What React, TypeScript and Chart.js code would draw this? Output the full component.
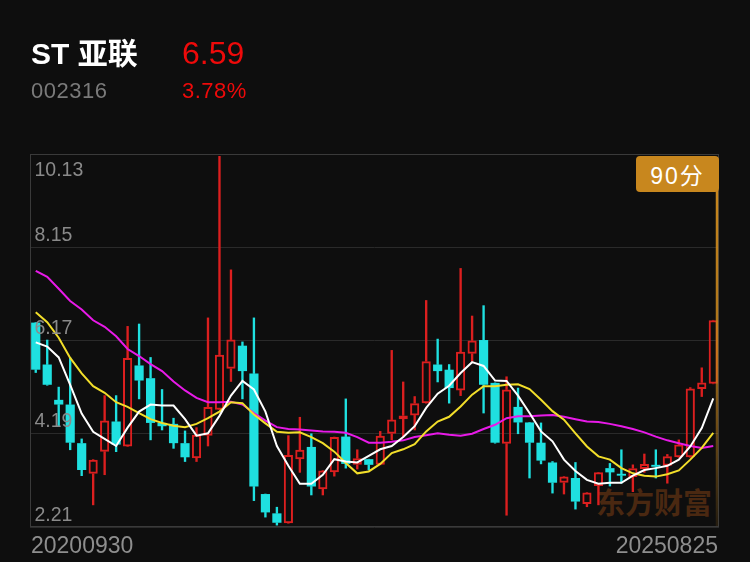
import React, { useEffect, useRef } from "react";
import { Chart, registerables } from "chart.js";

Chart.register(...registerables);

// ---------- data ----------
const months = [
  "2020-09", "2020-10", "2020-11", "2020-12",
  "2021-01", "2021-02", "2021-03", "2021-04", "2021-05", "2021-06", "2021-07", "2021-08", "2021-09", "2021-10", "2021-11", "2021-12",
  "2022-01", "2022-02", "2022-03", "2022-04", "2022-05", "2022-06", "2022-07", "2022-08", "2022-09", "2022-10", "2022-11", "2022-12",
  "2023-01", "2023-02", "2023-03", "2023-04", "2023-05", "2023-06", "2023-07", "2023-08", "2023-09", "2023-10", "2023-11", "2023-12",
  "2024-01", "2024-02", "2024-03", "2024-04", "2024-05", "2024-06", "2024-07", "2024-08", "2024-09", "2024-10", "2024-11", "2024-12",
  "2025-01", "2025-02", "2025-03", "2025-04", "2025-05", "2025-06", "2025-07", "2025-08",
];

const openV = [
  6.55, 5.66, 4.91, 4.81, 3.99, 3.34, 3.81, 4.45, 3.92, 5.64,
  5.37, 4.42, 4.40, 3.99, 3.67, 4.15, 4.70, 5.57, 6.06, 5.47,
  2.91, 2.50, 2.29, 3.65, 3.91, 3.01, 3.37, 4.13, 3.53, 3.65,
  3.53, 4.19, 4.50, 4.58, 4.84, 5.66, 5.55, 5.11, 5.89, 6.18,
  5.27, 3.98, 4.76, 4.43, 4.00, 3.58, 3.15, 3.25, 2.70, 3.08,
  3.46, 3.34, 3.27, 3.44, 3.53, 3.51, 3.69, 3.69, 5.14, 5.25,
];
const highV = [
  6.55, 6.18, 5.18, 5.80, 4.08, 3.64, 5.00, 5.00, 6.47, 6.52,
  5.81, 5.13, 4.52, 4.25, 4.32, 6.65, 10.08, 7.67, 6.14, 6.65,
  2.91, 2.63, 4.15, 4.54, 4.19, 3.41, 4.12, 4.93, 3.85, 3.65,
  4.24, 5.96, 5.29, 4.98, 7.02, 6.20, 5.66, 7.70, 6.69, 6.91,
  5.27, 5.40, 5.16, 4.43, 4.42, 3.60, 3.28, 3.58, 2.94, 3.37,
  3.56, 3.85, 3.53, 3.76, 3.85, 3.75, 4.06, 5.17, 5.59, 6.60,
];
const lowV = [
  5.49, 5.22, 4.35, 3.85, 3.30, 2.68, 3.32, 3.81, 3.92, 4.93,
  4.06, 4.27, 3.88, 3.60, 3.60, 3.93, 4.70, 5.30, 4.93, 2.77,
  2.42, 2.25, 2.29, 3.37, 2.89, 2.89, 3.29, 3.46, 3.44, 3.42,
  3.53, 4.06, 4.12, 4.27, 4.84, 5.29, 4.84, 5.00, 5.73, 4.63,
  3.99, 2.46, 4.19, 3.25, 3.55, 2.93, 2.91, 2.59, 2.64, 2.68,
  3.08, 3.14, 2.96, 3.37, 3.25, 3.14, 3.69, 3.69, 4.98, 5.25,
];
const closeV = [
  5.55, 5.23, 4.81, 4.00, 3.42, 3.64, 4.47, 3.96, 5.80, 5.32,
  4.42, 4.35, 3.99, 3.69, 4.17, 4.76, 5.87, 6.19, 5.52, 3.07,
  2.52, 2.30, 3.74, 3.85, 3.07, 3.41, 4.12, 3.55, 3.67, 3.53,
  4.15, 4.49, 4.58, 4.84, 5.73, 5.52, 5.16, 5.93, 6.17, 5.23,
  4.00, 5.13, 4.43, 4.00, 3.62, 3.15, 3.28, 2.75, 2.94, 3.37,
  3.37, 3.30, 3.46, 3.55, 3.49, 3.71, 3.96, 5.15, 5.28, 6.60,
];

const ma5 = [
  6.13, 6.04, 5.81, 5.23, 4.62, 4.23, 4.08, 3.93, 4.32, 4.66,
  4.81, 4.79, 4.79, 4.50, 4.15, 4.20, 4.57, 5.00, 5.31, 5.13,
  4.66, 3.93, 3.51, 3.13, 3.13, 3.32, 3.65, 3.60, 3.58, 3.72,
  3.86, 3.93, 4.12, 4.35, 4.74, 5.04, 5.21, 5.48, 5.71, 5.63,
  5.32, 5.31, 5.00, 4.63, 4.24, 4.03, 3.64, 3.40, 3.21, 3.13,
  3.15, 3.15, 3.30, 3.42, 3.46, 3.51, 3.64, 3.92, 4.31, 4.94,
];
const ma10 = [
  6.77, 6.56, 6.23, 5.80, 5.47, 5.20, 5.06, 4.86, 4.76, 4.63,
  4.50, 4.42, 4.36, 4.33, 4.40, 4.52, 4.66, 4.86, 4.84, 4.60,
  4.41, 4.23, 4.21, 4.22, 4.12, 3.99, 3.81, 3.57, 3.35, 3.39,
  3.55, 3.78, 3.86, 3.97, 4.24, 4.45, 4.55, 4.77, 5.02, 5.20,
  5.20, 5.23, 5.24, 5.14, 4.91, 4.67, 4.49, 4.20, 3.92, 3.71,
  3.64, 3.46, 3.35, 3.30, 3.28, 3.33, 3.41, 3.64, 3.89, 4.21,
];
const ma20 = [
  7.65, 7.52, 7.27, 7.01, 6.83, 6.60, 6.46, 6.26, 5.99, 5.84,
  5.67, 5.52, 5.30, 5.11, 4.95, 4.86, 4.86, 4.87, 4.81, 4.63,
  4.47, 4.33, 4.29, 4.28, 4.26, 4.24, 4.23, 4.21, 4.12, 4.00,
  4.00, 4.02, 4.05, 4.12, 4.16, 4.20, 4.17, 4.15, 4.19, 4.29,
  4.38, 4.52, 4.56, 4.56, 4.58, 4.59, 4.55, 4.50, 4.45, 4.44,
  4.40, 4.35, 4.29, 4.22, 4.13, 4.05, 3.99, 3.93, 3.89, 3.93,
];

const yTicks = [2.21, 4.19, 6.17, 8.15, 10.13];
const yTickLabels = ["2.21", "4.19", "6.17", "8.15", "10.13"];
const xTickLabels = ["20200930", "20250825"];

const stockName = "ST 亚联";
const stockCode = "002316";
const lastPrice = "6.59";
const changePct = "3.78%";
const scoreText = "90分";
const watermarkText = "东方财富";

// ---------- styles ----------
const BG = "#0e0e0e";
const RED = "#dc1f1f";
const CYAN = "#1fe0e0";
const WHITE = "#ffffff";
const YELLOW = "#f2de2a";
const MAGENTA = "#e81ae8";
const GOLD = "#c8871e";
const FONT = '"Liberation Sans", "Noto Sans CJK SC", sans-serif';

const overlayPlugin = {
  id: "overlay",
  afterDatasetsDraw(chart: any) {
    const { ctx, chartArea: a, scales } = chart;
    const y = scales.y;
    ctx.save();
    // frame
    ctx.strokeStyle = "#3a3a3a";
    ctx.lineWidth = 1;
    ctx.strokeRect(a.left + 0.5, a.top + 0.5, a.right - a.left - 1, a.bottom - a.top - 1);
    // y labels
    ctx.font = '19.5px "Liberation Sans", sans-serif';
    ctx.fillStyle = "#8a8a8a";
    ctx.textBaseline = "alphabetic";
    ctx.textAlign = "left";
    yTicks.forEach((v, i) => {
      const py = y.getPixelForValue(v);
      const isTop = i === yTicks.length - 1;
      ctx.fillText(yTickLabels[i], a.left + 4.5, isTop ? py + 21.5 : py - 6.5);
    });
    // score marker line
    const lx = a.right - 2;
    const g = ctx.createLinearGradient(0, a.top + 36, 0, a.bottom);
    g.addColorStop(0, "rgba(200,135,30,1)");
    g.addColorStop(0.45, "rgba(200,135,30,0.85)");
    g.addColorStop(1, "rgba(200,135,30,0.12)");
    ctx.strokeStyle = g;
    ctx.lineWidth = 2.5;
    ctx.beginPath();
    ctx.moveTo(lx, a.top + 36);
    ctx.lineTo(lx, a.bottom - 1);
    ctx.stroke();
    ctx.restore();
  },
};

export default function App() {
  const ref = useRef<HTMLCanvasElement>(null);

  useEffect(() => {
    document.body.style.margin = "0";
    document.body.style.background = BG;
    const up = closeV.map((c, i) => c >= openV[i]);
    const col = (i: number) => (up[i] ? RED : CYAN);

    const bodies = months.map((_, i) => {
      const lo = Math.min(openV[i], closeV[i]);
      const hi = Math.max(openV[i], closeV[i]);
      return [lo, hi - lo < 0.03 ? lo + 0.03 : hi];
    });
    const upperWick = months.map((_, i) => [Math.max(openV[i], closeV[i]), highV[i]]);
    const lowerWick = months.map((_, i) => [lowV[i], Math.min(openV[i], closeV[i])]);

    const lineDs = (label: string, data: number[], color: string) =>
      ({
        type: "line",
        label,
        data,
        borderColor: color,
        borderWidth: 2,
        pointRadius: 0,
        tension: 0,
        order: 0,
      } as any);

    const chart = new Chart(ref.current as HTMLCanvasElement, {
      type: "bar",
      data: {
        labels: months,
        datasets: [
          lineDs("MA5", ma5, WHITE),
          lineDs("MA10", ma10, YELLOW),
          lineDs("MA20", ma20, MAGENTA),
          {
            label: "body",
            data: bodies as any,
            backgroundColor: months.map((_, i) => (up[i] ? "rgba(0,0,0,0)" : CYAN)),
            borderColor: months.map((_, i) => col(i)),
            borderWidth: months.map((_, i) => (up[i] ? 2 : 0)),
            borderSkipped: false,
            barPercentage: 0.8,
            categoryPercentage: 1,
            grouped: false,
            order: 1,
          } as any,
          {
            label: "upper",
            data: upperWick as any,
            backgroundColor: months.map((_, i) => col(i)),
            borderWidth: 0,
            barThickness: 1.7,
            grouped: false,
            order: 2,
          } as any,
          {
            label: "lower",
            data: lowerWick as any,
            backgroundColor: months.map((_, i) => col(i)),
            borderWidth: 0,
            barThickness: 1.7,
            grouped: false,
            order: 2,
          } as any,
        ],
      },
      options: {
        responsive: false,
        animation: false,
        devicePixelRatio: 1,
        layout: { padding: { left: 30, right: 31, top: 154, bottom: 35 } },
        plugins: { legend: { display: false }, tooltip: { enabled: false } },
        scales: {
          x: {
            type: "category",
            display: false,
            offset: true,
            grid: { display: false },
          },
          y: {
            type: "linear",
            min: yTicks[0],
            max: yTicks[yTicks.length - 1],
            display: true,
            afterBuildTicks: (s: any) => {
              s.ticks = yTicks.map((v) => ({ value: v }));
            },
            ticks: { display: false },
            grid: { color: "#2a2a2a", lineWidth: 1, drawTicks: false },
            border: { display: false },
          },
        },
      } as any,
      plugins: [overlayPlugin],
    });
    return () => chart.destroy();
  }, []);

  const abs = (o: any) => ({ position: "absolute" as const, whiteSpace: "nowrap" as const, ...o });

  return (
    <div style={{ position: "relative", width: 750, height: 562, background: BG, overflow: "hidden", fontFamily: FONT }}>
      <div style={abs({ left: 596, top: 487, fontSize: 29, lineHeight: "29px", fontWeight: 700, color: "#4a2811", fontFamily: '"Noto Sans CJK SC", sans-serif' })}>
        {watermarkText}
      </div>
      <canvas ref={ref} width={750} height={562} style={{ position: "absolute", left: 0, top: 0, width: 750, height: 562 }} />
      <div style={abs({ left: 31, top: 38.6, fontSize: 30, lineHeight: "30px", fontWeight: 600, color: "#ffffff" })}>{stockName}</div>
      <div style={abs({ left: 182, top: 36.9, fontSize: 32, lineHeight: "32px", color: "#ee0a0a" })}>{lastPrice}</div>
      <div style={abs({ left: 31, top: 80.4, fontSize: 22, lineHeight: "22px", color: "#7a7a7a", letterSpacing: 0.5 })}>{stockCode}</div>
      <div style={abs({ left: 182, top: 80.4, fontSize: 22, lineHeight: "22px", color: "#ee0a0a", letterSpacing: 0.5 })}>{changePct}</div>
      <div style={abs({ left: 31, top: 533.5, fontSize: 23, lineHeight: "23px", color: "#8e8e8e" })}>{xTickLabels[0]}</div>
      <div style={abs({ right: 32, top: 533.5, fontSize: 23, lineHeight: "23px", color: "#8e8e8e" })}>{xTickLabels[1]}</div>
      <div
        style={abs({
          left: 636, top: 156, width: 83, height: 36, background: GOLD, borderRadius: 4,
          display: "flex", alignItems: "center", justifyContent: "center",
          color: "#ffffff", fontSize: 23, letterSpacing: 2,
        })}
      >
        {scoreText}
      </div>
    </div>
  );
}
